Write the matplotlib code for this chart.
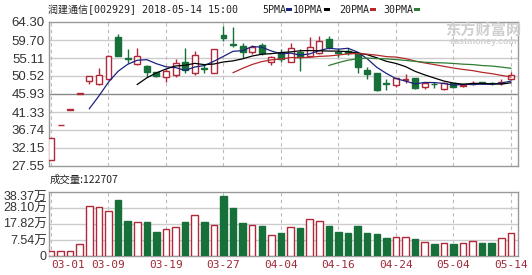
import matplotlib.pyplot as plt
from matplotlib.patches import Rectangle
import numpy as np
import pandas as pd

plt.rcParams['font.family'] = ['Liberation Sans', 'Noto Sans CJK SC', 'DejaVu Sans']

# trading days 2018-03-01 .. 2018-05-14
dates = ["03-01", "03-02", "03-05", "03-06", "03-07", "03-08", "03-09", "03-12", "03-13", "03-14",
         "03-15", "03-16", "03-19", "03-20", "03-21", "03-22", "03-23", "03-26", "03-27", "03-28",
         "03-29", "03-30", "04-02", "04-03", "04-04", "04-09", "04-10", "04-11", "04-12", "04-13",
         "04-16", "04-17", "04-18", "04-19", "04-20", "04-23", "04-24", "04-25", "04-26", "04-27",
         "05-02", "05-03", "05-04", "05-07", "05-08", "05-09", "05-10", "05-11", "05-14"]

opens = [29.09, 38.0, 41.9, 46.0, 49.2, 48.4, 49.7, 60.5, 55.0, 53.5,
         53.1, 51.5, 50.2, 50.8, 54.2, 51.2, 52.6, 51.4, 61.0, 58.6,
         58.2, 56.7, 58.4, 54.2, 56.3, 54.2, 56.7, 55.5, 56.5, 59.9,
         56.6, 56.8, 56.3, 52.0, 51.2, 48.8, 48.2, 49.5, 49.9, 47.6,
         48.5, 47.1, 48.7, 48.0, 48.5, 48.9, 48.8, 48.8, 49.7]
highs = [34.6, 38.0, 41.9, 46.0, 50.5, 52.6, 55.9, 61.2, 57.3, 57.6,
         53.2, 51.6, 52.3, 54.8, 57.6, 57.0, 53.6, 57.4, 63.2, 63.0,
         59.0, 58.4, 59.0, 55.6, 57.3, 58.9, 57.3, 60.4, 60.7, 60.7,
         57.6, 57.7, 56.6, 52.9, 51.4, 49.7, 50.0, 51.0, 50.0, 48.9,
         48.9, 48.9, 48.8, 48.5, 49.3, 49.1, 49.0, 49.7, 51.6]
lows = [29.09, 38.0, 41.9, 46.0, 48.4, 48.2, 49.5, 55.5, 53.8, 53.2,
        50.3, 50.3, 49.1, 50.2, 51.4, 50.8, 51.4, 51.3, 59.5, 58.0,
        55.0, 56.2, 55.9, 53.3, 54.2, 54.0, 51.9, 55.3, 56.2, 57.3,
        55.4, 55.9, 51.2, 49.7, 46.8, 46.9, 47.8, 48.8, 47.2, 47.3,
        47.5, 47.0, 47.4, 47.8, 48.2, 48.4, 48.2, 48.3, 49.5]
closes = [34.6, 38.0, 41.9, 46.0, 50.4, 50.8, 55.7, 55.7, 54.9, 55.6,
          51.5, 50.6, 51.8, 53.8, 52.0, 55.9, 52.4, 57.3, 60.1, 58.4,
          56.7, 57.8, 56.3, 55.3, 54.8, 57.6, 55.3, 57.8, 59.5, 57.8,
          56.4, 56.5, 52.9, 51.0, 46.9, 48.6, 49.9, 49.7, 47.4, 48.8,
          48.4, 48.8, 47.6, 48.2, 48.8, 48.7, 48.7, 49.1, 50.8]
# volume in 万 shares
volumes = [0.5, 0.5, 0.5, 4.75, 29.2, 28.4, 26.0, 33.1, 19.6, 18.8,
           19.0, 12.6, 14.5, 15.6, 19.0, 23.5, 19.0, 17.1, 35.6, 27.8,
           18.6, 17.1, 16.5, 10.7, 12.2, 15.8, 15.4, 20.7, 19.6, 16.6,
           12.8, 12.0, 16.6, 12.2, 11.3, 9.0, 9.4, 9.4, 8.1, 6.4,
           5.1, 5.8, 5.1, 5.8, 6.9, 5.8, 5.8, 8.8, 12.27]

label_dates = ["03-01", "03-09", "03-19", "03-27", "04-04", "04-16", "04-24", "05-04", "05-14"]
price_ticks = [27.55, 32.15, 36.74, 41.33, 45.93, 50.52, 55.11, 59.70, 64.30]
vol_ticks = [7.54, 17.82, 28.10, 38.37]

ma_periods = [5, 10, 20, 30]
ma_colors = ["#1a237e", "#000000", "#b22a2a", "#2e7d32"]

RED = "#b0283a"
GREEN = "#17703a"
GRID = "#cccccc"
DATE_COLOR = "#a02838"

df = pd.DataFrame({"open": opens, "high": highs, "low": lows, "close": closes, "vol": volumes})
x = np.arange(len(df))
up = df["close"] >= df["open"]

W, H = 532, 275
fig = plt.figure(figsize=(W / 100, H / 100), dpi=100)
ax = fig.add_axes([49 / W, 1 - 166 / H, 469 / W, 144 / H])
ax2 = fig.add_axes([49 / W, 1 - 256 / H, 469 / W, 64.3 / H])

# price panel
for i in x:
    o, h, l, c = df.loc[i, ["open", "high", "low", "close"]]
    col = RED if up[i] else GREEN
    ax.vlines(i, l, h, color=col, lw=1, zorder=3)
    body = max(abs(c - o), 0.08)
    ax.bar(i, body, bottom=min(o, c), width=0.62,
           facecolor="white" if up[i] else GREEN, edgecolor=col, lw=1, zorder=4)

for p, col in zip(ma_periods, ma_colors):
    ax.plot(x, df["close"].rolling(p).mean(), color=col, lw=0.9, zorder=5)

ax.set_xlim(-0.21, len(df) - 0.26)
ax.set_ylim(price_ticks[0], price_ticks[-1])
ax.set_yticks(price_ticks)
ax.set_yticklabels(["%.2f" % t for t in price_ticks], fontsize=9.5, color="#333333")
ax.set_xticks([])
for t in price_ticks[1:-1]:
    ax.axhline(t, color="#888888" if t == 45.93 else GRID, lw=1, zorder=1)
label_idx = [dates.index(d) for d in label_dates]
for i in label_idx:
    ax.axvline(i, color="#bbbbbb", lw=0.8, ls=(0, (3, 3)), zorder=1)
    ax2.axvline(i, color="#bbbbbb", lw=0.8, ls=(0, (3, 3)), zorder=1)
ax.tick_params(length=0, pad=3)

# volume panel
vol_floor = vol_ticks[0] - (vol_ticks[1] - vol_ticks[0])
for i in x:
    col = RED if up[i] else GREEN
    ax2.bar(i, df.loc[i, "vol"] - vol_floor, bottom=vol_floor, width=0.68,
            facecolor="white" if up[i] else GREEN, edgecolor=col, lw=1, zorder=3)
ax2.set_xlim(ax.get_xlim())
ax2.set_ylim(vol_floor, vol_ticks[-1])
for t in vol_ticks[:-1]:
    ax2.axhline(t, color=GRID, lw=1, zorder=1)
ax2.set_yticks([vol_floor] + vol_ticks)
ax2.set_yticklabels(["0"] + ["%.2f万" % t for t in vol_ticks], fontsize=9, color="#333333")
ax2.get_yticklabels()[-1].set_verticalalignment("top")
ax2.set_xticks(label_idx)
ax2.set_xticklabels(label_dates, fontsize=8, color=DATE_COLOR, family="DejaVu Sans Mono")
ax2.get_xticklabels()[0].set_horizontalalignment("left")
ax2.tick_params(axis="y", length=0, pad=1.5)
ax2.tick_params(axis="x", length=0, pad=3)

for a in (ax, ax2):
    for s in a.spines.values():
        s.set_color("#999999")
        s.set_linewidth(1)

# header text
fig.text(48 / W, 1 - 10 / H, "润建通信[002929] 2018-05-14 15:00", fontsize=7.2,
         family=["DejaVu Sans Mono", "Noto Sans CJK SC"], va="center", color="#222222")
legend_x = [262, 293, 339, 383]
for lx, p, col in zip(legend_x, ma_periods, ma_colors):
    t = fig.text(lx / W, 1 - 10 / H, "%dPMA" % p, fontsize=7.2, family="DejaVu Sans Mono",
                 va="center", color="#222222")
    off = 24 if p == 5 else 31
    fig.patches.append(Rectangle(((lx + off) / W, 1 - 11 / H), 6 / W, 3 / H,
                                 transform=fig.transFigure, facecolor=col, edgecolor="none"))

fig.text(50 / W, 1 - 180 / H, "成交量:122707", fontsize=7.5,
         family=["Noto Sans CJK SC", "DejaVu Sans"], va="center", color="#222222")

# watermark
fig.text(445 / W, 1 - 30 / H, "东方财富网", fontsize=11, fontweight="bold",
         family="Noto Sans CJK SC", va="center", color="#d0d0d0", zorder=0)
fig.text(450 / W, 1 - 41 / H, "eastmoney.com", fontsize=6.5, fontweight="bold",
         va="center", color="#d0d0d0", zorder=0)

fig.savefig("out.png", dpi=100, facecolor="white")
